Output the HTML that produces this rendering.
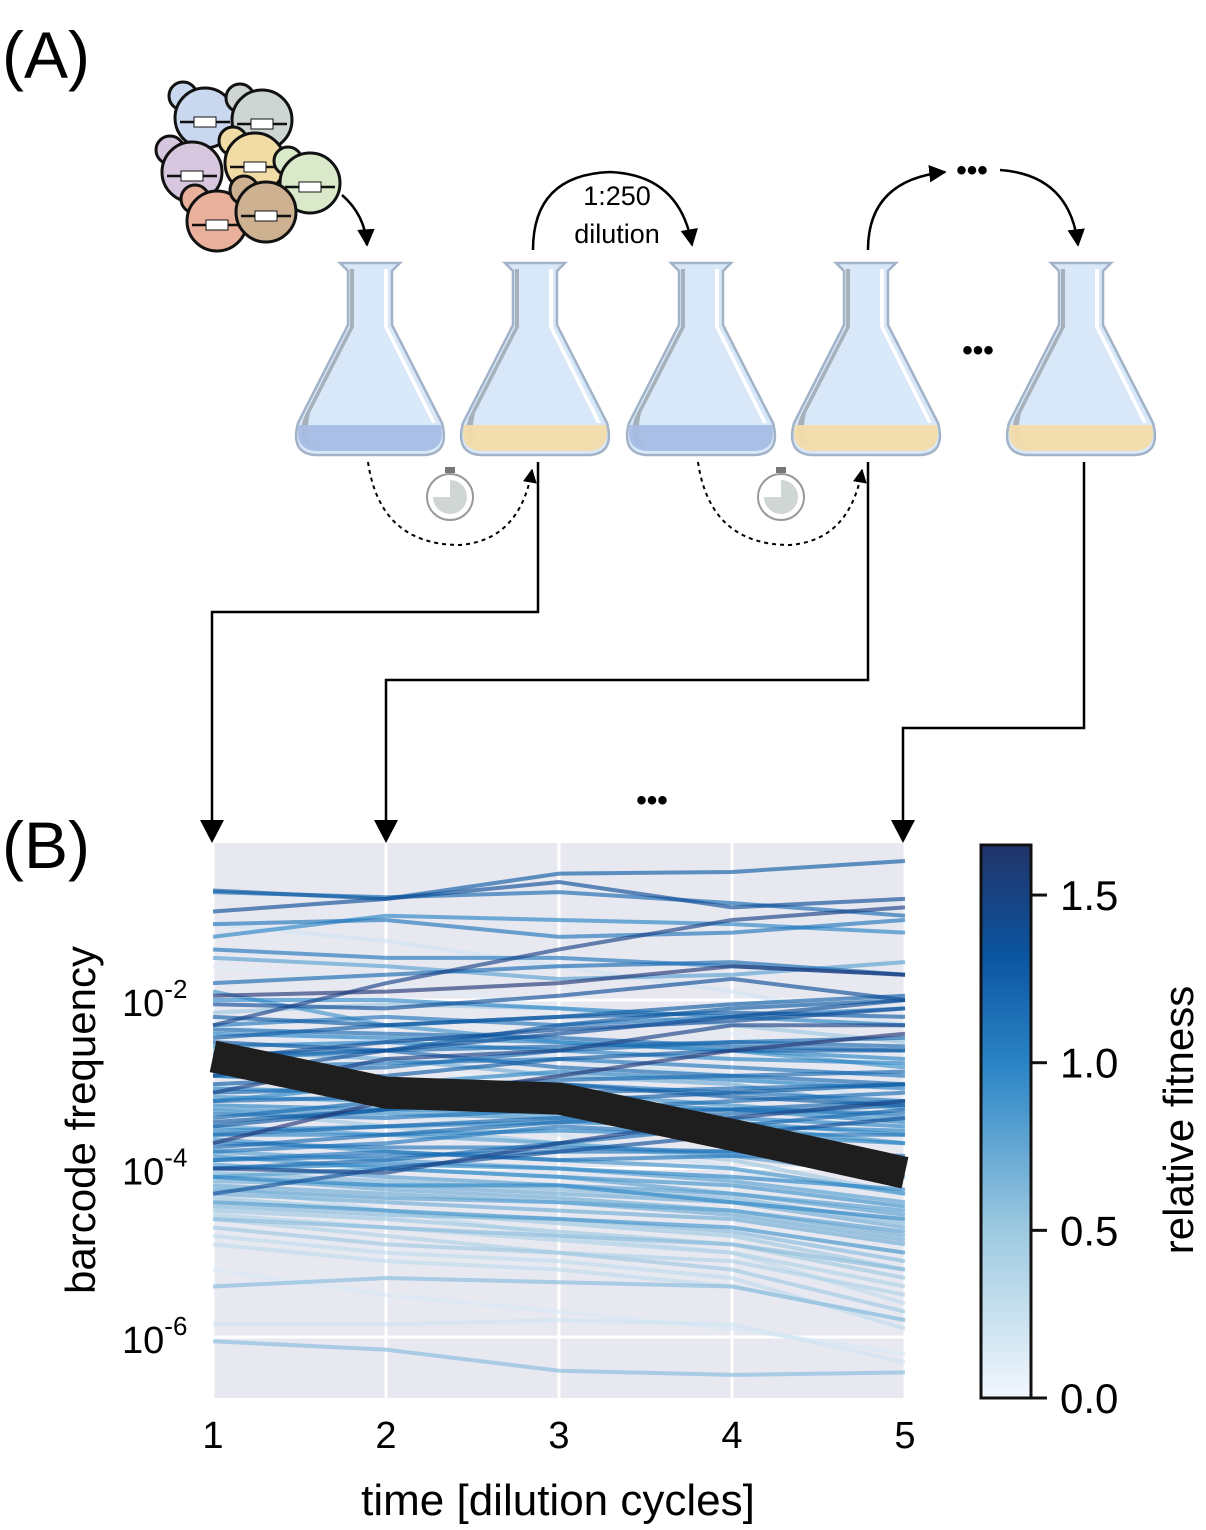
<!DOCTYPE html>
<html><head><meta charset="utf-8">
<style>
body{margin:0;background:#fff;}
svg{display:block;font-family:"Liberation Sans",sans-serif;}
</style></head>
<body>
<svg id="fig" width="1206" height="1530" viewBox="0 0 1206 1530" xmlns="http://www.w3.org/2000/svg">
<defs>
<marker id="ah" viewBox="0 0 10 10" refX="9" refY="5" markerWidth="7" markerHeight="7" orient="auto-start-reverse"><path d="M0,0 L10,5 L0,10 z" fill="#000"/></marker>
<g id="flask">
<path d="M-30,0 L30,0 L22,8 L22,62 L72,160 Q80,190 55,192 L-55,192 Q-80,190 -72,160 L-22,62 L-22,8 Z" fill="#d8e8f8" stroke="#a2b3c8" stroke-width="2.5"/>
<path d="M-16,6 L-16,64 L-60,150 Q-66,175 -55,185 L-66,180 Q-72,165 -64,150 L-20,64 L-20,6Z" fill="#a6b1bb"/>
<path d="M14,6 L14,64 L62,160 L66,160 L18,64 L18,6Z" fill="#fff"/>
</g>
</defs>
<text x="2" y="78" font-size="66">(A)</text>
<text x="2" y="868" font-size="66">(B)</text>

<g id="cells" stroke="#111" stroke-width="3"></g>

<g id="flasks"></g>

<g fill="none" stroke="#000" stroke-width="2.5">
<path d="M342,195 Q365,215 367,245" marker-end="url(#ah)"/>
<path d="M533,250 Q533,175 610,172 Q680,175 692,245" marker-end="url(#ah)"/>
<path d="M868,250 Q868,180 945,172" marker-end="url(#ah)"/>
<path d="M1000,170 Q1070,175 1078,245" marker-end="url(#ah)"/>
<path d="M368,462 Q380,545 460,545 Q520,540 532,470" stroke-dasharray="4,4" stroke-width="2" marker-end="url(#ah)"/>
<path d="M698,462 Q710,545 790,545 Q850,540 862,470" stroke-dasharray="4,4" stroke-width="2" marker-end="url(#ah)"/>
<path d="M538,462 V612 H212 V825"/>
<path d="M868,462 V680 H386 V825"/>
<path d="M1084,462 V728 H903 V825"/>
</g>
<g fill="#000">
<path d="M200,820 L224,820 L212,843Z"/>
<path d="M374,820 L398,820 L386,843Z"/>
<path d="M891,820 L915,820 L903,843Z"/>
</g>
<g><circle cx="450" cy="497" r="23" fill="#fff" stroke="#999" stroke-width="2"/><path d="M450,480 A17,17 0 1 1 433,497 L450,497Z" fill="#cfd6d3"/><rect x="445" y="467" width="10" height="6" fill="#777"/></g>
<g><circle cx="781" cy="497" r="23" fill="#fff" stroke="#999" stroke-width="2"/><path d="M781,480 A17,17 0 1 1 764,497 L781,497Z" fill="#cfd6d3"/><rect x="776" y="467" width="10" height="6" fill="#777"/></g>
<text x="617" y="205" font-size="27" text-anchor="middle">1:250</text>
<text x="617" y="243" font-size="27" text-anchor="middle">dilution</text>
<text x="972" y="180" font-size="30" text-anchor="middle" font-weight="bold">•••</text>
<text x="978" y="360" font-size="30" text-anchor="middle" font-weight="bold">•••</text>
<text x="652" y="810" font-size="30" text-anchor="middle" font-weight="bold">•••</text>

<rect x="213" y="843" width="692" height="555" fill="#e8e8f1"/>
<g id="grid"></g>
<g id="lines"></g>
<g id="axes"></g>
<text x="0" y="0" font-size="42" text-anchor="middle" transform="translate(95,1120) rotate(-90)">barcode frequency</text>
<text x="558" y="1515" font-size="44" text-anchor="middle">time [dilution cycles]</text>
<defs><linearGradient id="cbg" x1="0" y1="1" x2="0" y2="0">
<stop offset="0" stop-color="#f2f7fd"/><stop offset="0.3" stop-color="#9ecae1"/><stop offset="0.6" stop-color="#2b85c6"/><stop offset="0.8" stop-color="#0b55a0"/><stop offset="1" stop-color="#21346a"/></linearGradient></defs>
<rect x="981" y="845" width="50" height="553" fill="url(#cbg)" stroke="#111" stroke-width="3"/>
<g id="cbticks"></g>
<text x="0" y="0" font-size="42" text-anchor="middle" transform="translate(1193,1120) rotate(-90)">relative fitness</text>
</svg>
<script>
const timePoints=[1,2,3,4,5];
const fitness=[1.3,1.2,1.4,1.1,1.0,0.2,1.5,0.8,1.2,1.6,1.4,0.5,1.1,1.3,1.5,1.2,0.9,1.0,1.3,1.6,0.5,1.1,1.2,0.8,1.4,1.0,1.5,0.7,1.2,1.1,0.9,0.6,1.3,0.4,0.3,0.6,0.5,0.15,0.2,0.6,0.1,0.2,0.05,0.3,1.4,1.0,0.9,1.2,0.7,1.1,
1.0,1.1,1.2,0.9,1.3,1.0,1.2,1.1,0.8,1.3,1.0,1.2,0.9,1.1,1.4,0.7,1.0,1.2,0.8,1.1,0.6,0.9,1.0,1.2,0.7,0.5,0.8,1.1,0.4,0.6,1.3,1.0,0.9,0.3,1.2,0.8,0.5,1.0,0.7,0.2];
const logFreq=[
[-0.7,-0.8,-0.5,-0.48,-0.35],[-0.72,-0.78,-0.72,-0.85,-1.0],[-0.95,-0.8,-0.6,-0.9,-0.8],[-1.1,-1.05,-1.25,-1.2,-1.05],[-1.25,-1.0,-1.05,-1.1,-1.2],
[-1.1,-1.3,-1.6,-1.9,-2.3],[-2.3,-1.8,-1.4,-1.05,-0.9],[-1.5,-1.6,-1.75,-1.7,-1.55],[-1.8,-1.7,-1.6,-1.55,-1.7],[-1.95,-1.9,-1.8,-1.6,-1.7],
[-2.05,-2.1,-1.95,-1.75,-2.0],[-2.15,-2.05,-2.1,-2.3,-2.5],[-2.3,-2.2,-2.3,-2.2,-2.1],[-2.5,-2.6,-2.3,-2.1,-2.0],[-3.1,-2.7,-2.6,-2.3,-2.3],
[-2.7,-2.6,-2.8,-2.9,-3.0],[-2.9,-3.0,-3.1,-3.25,-3.4],[-3.2,-3.0,-2.85,-2.95,-3.05],[-3.5,-3.3,-3.0,-3.15,-3.25],[-3.7,-3.2,-2.9,-2.6,-2.4],
[-3.3,-3.5,-3.7,-3.9,-4.3],[-3.8,-3.7,-3.5,-3.6,-3.6],[-4.0,-3.9,-3.7,-3.5,-3.3],[-4.1,-4.0,-4.1,-4.3,-4.5],[-4.3,-4.0,-3.8,-3.6,-3.4],
[-4.1,-4.2,-4.2,-4.4,-4.6],[-4.0,-4.05,-3.7,-3.4,-3.2],[-4.3,-4.4,-4.5,-4.6,-4.9],[-3.6,-3.5,-3.4,-3.3,-3.2],[-3.9,-3.8,-3.9,-3.85,-3.9],
[-4.4,-4.5,-4.6,-4.7,-5.0],[-4.6,-4.7,-4.8,-4.9,-5.2],[-3.0,-2.9,-2.7,-2.6,-2.6],[-4.6,-4.8,-5.0,-5.1,-5.5],[-4.2,-4.5,-4.8,-5.0,-5.6],
[-5.4,-5.3,-5.35,-5.4,-5.8],[-4.7,-4.9,-5.0,-5.2,-5.7],[-5.2,-5.5,-5.7,-5.9,-6.2],[-5.85,-5.85,-5.8,-5.85,-6.3],[-6.05,-6.15,-6.4,-6.45,-6.42],
[-1.6,-1.8,-2.1,-2.4,-2.8],[-3.0,-3.3,-3.6,-4.0,-4.5],[-2.2,-2.7,-3.1,-3.6,-4.1],[-4.8,-5.0,-5.1,-5.3,-5.9],[-2.9,-2.6,-2.4,-2.2,-2.0],
[-2.0,-2.0,-2.1,-2.2,-2.3],[-1.9,-2.3,-2.5,-2.6,-2.8],[-3.4,-3.2,-3.3,-3.2,-3.1],[-2.6,-2.7,-2.9,-3.0,-3.3],[-1.4,-1.5,-1.5,-1.6,-1.7],
[-2.4,-2.45,-2.5,-2.6,-2.7],[-2.8,-2.75,-2.7,-2.8,-2.9],[-3.1,-3.05,-2.95,-2.9,-2.85],[-3.3,-3.35,-3.4,-3.5,-3.7],[-3.45,-3.3,-3.2,-3.1,-3.0],
[-3.6,-3.6,-3.55,-3.6,-3.7],[-3.75,-3.6,-3.45,-3.35,-3.25],[-3.9,-3.85,-3.8,-3.8,-3.85],[-3.5,-3.6,-3.7,-3.85,-4.1],[-2.2,-2.3,-2.2,-2.15,-2.2],
[-2.55,-2.5,-2.6,-2.7,-2.75],[-2.85,-2.8,-2.6,-2.5,-2.45],[-3.15,-3.2,-3.3,-3.45,-3.6],[-3.35,-3.4,-3.3,-3.3,-3.35],[-2.7,-2.5,-2.35,-2.25,-2.1],
[-4.15,-4.2,-4.3,-4.4,-4.7],[-4.0,-3.95,-4.0,-4.1,-4.25],[-2.35,-2.4,-2.45,-2.55,-2.6],[-3.95,-4.1,-4.2,-4.3,-4.55],[-3.7,-3.75,-3.75,-3.8,-3.95],
[-4.45,-4.55,-4.6,-4.75,-5.1],[-3.85,-4.0,-4.1,-4.2,-4.45],[-3.05,-3.1,-3.2,-3.3,-3.45],[-3.2,-3.15,-3.1,-3.05,-3.0],[-4.2,-4.3,-4.4,-4.55,-4.85],
[-4.5,-4.6,-4.75,-4.9,-5.3],[-4.25,-4.35,-4.4,-4.5,-4.75],[-2.9,-2.95,-3.0,-3.1,-3.2],[-4.55,-4.7,-4.85,-5.0,-5.4],[-4.05,-4.15,-4.25,-4.35,-4.65],
[-2.45,-2.3,-2.2,-2.05,-1.95],[-3.55,-3.5,-3.45,-3.5,-3.55],[-3.65,-3.8,-3.9,-4.0,-4.3],[-4.9,-5.1,-5.2,-5.4,-5.8],[-2.65,-2.6,-2.55,-2.5,-2.55],
[-3.8,-3.9,-4.0,-4.15,-4.4],[-4.35,-4.5,-4.65,-4.8,-5.2],[-3.25,-3.3,-3.35,-3.4,-3.5],[-4.1,-4.25,-4.35,-4.5,-4.8],[-2.3,-2.5,-2.7,-2.9,-3.2]];
const neutralLog=[-2.67,-3.1,-3.17,-3.6,-4.05];
const yTicks=[-2,-4,-6];
const xTicks=[1,2,3,4,5];
const cbTicks=[0.0,0.5,1.0,1.5];

const NS="http://www.w3.org/2000/svg";
const xs=t=>213+(t-1)*173;
const ys=l=>1000-(l+2)*84.25;
const cbY=f=>1398-f*335.3;
function mk(tag,attrs,parent){const e=document.createElementNS(NS,tag);for(const k in attrs)e.setAttribute(k,attrs[k]);parent.appendChild(e);return e;}
const stops=[[0,[242,247,253]],[0.5,[158,202,225]],[1.0,[43,133,198]],[1.35,[11,85,160]],[1.65,[40,50,110]]];
function cmap(f){for(let i=1;i<stops.length;i++){if(f<=stops[i][0]){const a=stops[i-1],b=stops[i],u=(f-a[0])/(b[0]-a[0]);return 'rgb('+a[1].map((c,j)=>Math.round(c+(b[1][j]-c)*u)).join(',')+')';}}return 'rgb(40,50,110)';}

const cellsG=document.getElementById('cells');
const cells=[[205,118,'#c9d7ef'],[262,120,'#cdd6d2'],[192,172,'#d6c6de'],[255,163,'#f2dca6'],[310,183,'#d9e9c9'],[217,221,'#e9b09c'],[266,212,'#cdb191']];
cells.forEach((c,i)=>{const g=mk('g',{},cellsG);


mk('circle',{cx:c[0]-22,cy:c[1]-22,r:14,fill:c[2]},g);mk('circle',{cx:c[0],cy:c[1],r:30,fill:c[2]},g);
mk('line',{x1:c[0]-25,y1:c[1]+4,x2:c[0]+25,y2:c[1]+4,'stroke-width':2.5},g);
mk('rect',{x:c[0]-11,y:c[1]-1,width:22,height:10,fill:'#fff','stroke-width':1},g);});
const fG=document.getElementById('flasks');
[[370,'#a8bde4'],[535,'#f3dcab'],[701,'#a8bde4'],[866,'#f3dcab'],[1081,'#f3dcab']].forEach(f=>{
const g=mk('g',{transform:'translate('+f[0]+',263)'},fG);


mk('use',{href:'#flask'},g);
mk('path',{d:'M-71,162 L71,162 Q76,186 55,188 L-55,188 Q-76,186 -71,162Z',fill:f[1],opacity:0.95},g);});

const grid=document.getElementById('grid');
xTicks.forEach(t=>{const l=mk('line',{x1:xs(t),x2:xs(t),y1:843,y2:1398,stroke:'#fff','stroke-width':3},grid);

});
yTicks.forEach(v=>{const l=mk('line',{x1:213,x2:905,y1:ys(v),y2:ys(v),stroke:'#fff','stroke-width':3},grid);

});
const lg=document.getElementById('lines');
const order=fitness.map((f,i)=>i).sort((a,b)=>fitness[a]-fitness[b]);
order.forEach(i=>{const pts=logFreq[i].map((v,j)=>xs(timePoints[j])+','+ys(v)).join(' ');
const p=mk('polyline',{points:pts,fill:'none',stroke:cmap(fitness[i]),'stroke-width':4,opacity:0.65},lg);

});
const nl=mk('polyline',{points:neutralLog.map((v,j)=>xs(timePoints[j])+','+ys(v)).join(' '),fill:'none',stroke:'#1e1e1e','stroke-width':32},lg);


const ax=document.getElementById('axes');
xTicks.forEach(t=>{const e=mk('text',{x:xs(t),y:1448,'font-size':38,'text-anchor':'middle'},ax);e.textContent=t;

});
yTicks.forEach(v=>{const e=mk('text',{x:122,y:ys(v)+16,'font-size':38},ax);e.textContent='10';
const s=mk('tspan',{'font-size':26,dy:-18},e);s.textContent=String(v);

});
const cb=document.getElementById('cbticks');
cbTicks.forEach(v=>{const l=mk('line',{x1:1031,x2:1047,y1:cbY(v),y2:cbY(v),stroke:'#111','stroke-width':3},cb);


const e=mk('text',{x:1060,y:cbY(v)+15,'font-size':42},cb);e.textContent=v.toFixed(1);

});
</script>
</body></html>
